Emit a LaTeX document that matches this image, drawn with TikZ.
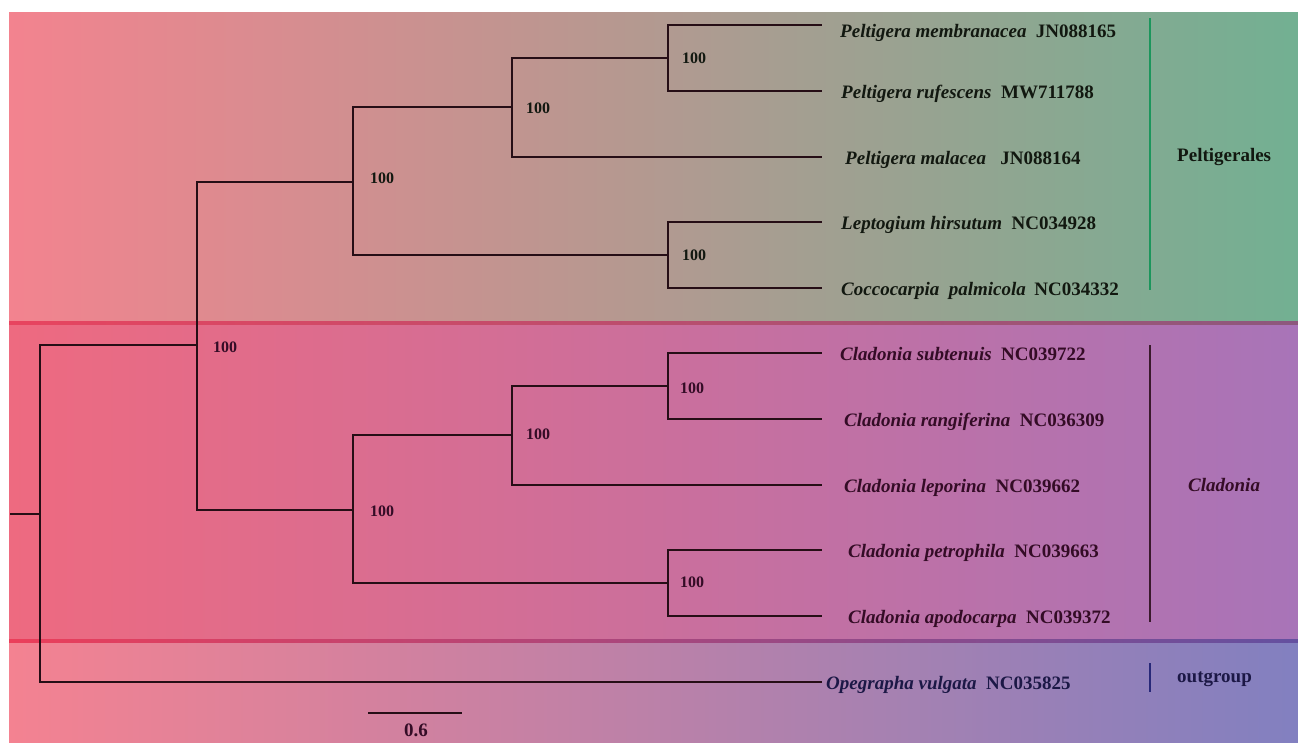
\documentclass[tikz,border=0pt]{standalone}
\usepackage{fontspec}
\setmainfont{Liberation Serif}
\definecolor{pinkA}{RGB}{243,131,143}
\definecolor{greenA}{RGB}{114,176,146}
\definecolor{pinkB}{RGB}{238,106,128}
\definecolor{purpB}{RGB}{168,116,184}
\definecolor{pinkC}{RGB}{244,130,145}
\definecolor{blueC}{RGB}{130,128,192}
\definecolor{sepA}{RGB}{232,68,95}
\definecolor{sepB}{RGB}{140,88,125}
\definecolor{sepC}{RGB}{235,62,90}
\definecolor{sepD}{RGB}{100,80,160}
\definecolor{branchc}{RGB}{38,14,22}
\definecolor{txtA}{RGB}{18,24,16}
\definecolor{txtB}{RGB}{52,12,38}
\definecolor{txtC}{RGB}{28,24,70}
\definecolor{barA}{RGB}{28,150,92}
\definecolor{barB}{RGB}{58,26,44}
\definecolor{barC}{RGB}{40,40,120}
\begin{document}
\begin{tikzpicture}[x=1pt,y=-1pt,
  branch/.style={draw=branchc,line width=1.4pt},
  leaf/.style={anchor=base west,inner sep=0pt,font=\fontsize{19}{22}\selectfont\bfseries},
  boot/.style={anchor=west,inner sep=0pt,font=\fontsize{16}{18}\selectfont\bfseries},
  clade/.style={anchor=west,inner sep=0pt,font=\fontsize{19}{22}\selectfont\bfseries},
  sp/.style={}]
\useasboundingbox (0,0) rectangle (1298,742);
\fill[white] (0,0) rectangle (1298,742);
% background bands
\shade[left color=pinkA,right color=greenA] (9,12) rectangle (1298,323);
\shade[left color=pinkB,right color=purpB] (9,323) rectangle (1298,641);
\shade[left color=pinkC,right color=blueC] (9,641) rectangle (1298,742);
\shade[left color=sepA,right color=sepB] (9,321.8) rectangle (1298,324.4);
\shade[left color=sepC,right color=sepD] (9,639.8) rectangle (1298,642.4);
% tree coordinates
\coordinate (r0) at (10,514);
\coordinate (r) at (40,514);
\coordinate (n1) at (197,345);
\coordinate (pA) at (353,182);
\coordinate (pB) at (512,107);
\coordinate (pC) at (668,58);
\coordinate (pD) at (668,255);
\coordinate (cA) at (353,510);
\coordinate (cB) at (512,435);
\coordinate (cC) at (668,386);
\coordinate (cD) at (668,583);
\coordinate (t1) at (822,25);
\coordinate (t2) at (822,91);
\coordinate (t3) at (822,157);
\coordinate (t4) at (822,222);
\coordinate (t5) at (822,288);
\coordinate (t6) at (822,353);
\coordinate (t7) at (822,419);
\coordinate (t8) at (822,485);
\coordinate (t9) at (822,550);
\coordinate (t10) at (822,616);
\coordinate (t11) at (822,682);
% branches
\draw[branch] (r0) -- (r);
\draw[branch] (r) |- (n1);
\draw[branch] (r) |- (t11);
\draw[branch] (n1) |- (pA);
\draw[branch] (n1) |- (cA);
\draw[branch] (pA) |- (pB);
\draw[branch] (pA) |- (pD);
\draw[branch] (pB) |- (pC);
\draw[branch] (pB) |- (t3);
\draw[branch] (pC) |- (t1);
\draw[branch] (pC) |- (t2);
\draw[branch] (pD) |- (t4);
\draw[branch] (pD) |- (t5);
\draw[branch] (cA) |- (cB);
\draw[branch] (cA) |- (cD);
\draw[branch] (cB) |- (cC);
\draw[branch] (cB) |- (t8);
\draw[branch] (cC) |- (t6);
\draw[branch] (cC) |- (t7);
\draw[branch] (cD) |- (t9);
\draw[branch] (cD) |- (t10);
% bootstrap values
\node[boot,text=txtA] (bpC) at (682,58) {100};
\node[boot,text=txtA] (bpB) at (526,108) {100};
\node[boot,text=txtA] (bpA) at (370,178) {100};
\node[boot,text=txtA] (bpD) at (682,255) {100};
\node[boot,text=txtB] (bn1) at (213,347) {100};
\node[boot,text=txtB] (bcC) at (680,388) {100};
\node[boot,text=txtB] (bcB) at (526,434) {100};
\node[boot,text=txtB] (bcA) at (370,511) {100};
\node[boot,text=txtB] (bcD) at (680,582) {100};
% leaf labels
\node[leaf,text=txtA] (L1) at (840,37) {\textit{Peltigera membranacea}\hspace{0.5em}JN088165};
\node[leaf,text=txtA] (L2) at (841,98) {\textit{Peltigera rufescens}\hspace{0.5em}MW711788};
\node[leaf,text=txtA] (L3) at (845,164) {\textit{Peltigera malacea}\hspace{0.75em}JN088164};
\node[leaf,text=txtA] (L4) at (841,229) {\textit{Leptogium hirsutum}\hspace{0.5em}NC034928};
\node[leaf,text=txtA] (L5) at (841,295) {\textit{Coccocarpia\hspace{0.5em}palmicola}\hspace{0.45em}NC034332};
\node[leaf,text=txtB] (L6) at (840,360) {\textit{Cladonia subtenuis}\hspace{0.5em}NC039722};
\node[leaf,text=txtB] (L7) at (844,426) {\textit{Cladonia rangiferina}\hspace{0.5em}NC036309};
\node[leaf,text=txtB] (L8) at (844,492) {\textit{Cladonia leporina}\hspace{0.5em}NC039662};
\node[leaf,text=txtB] (L9) at (848,557) {\textit{Cladonia petrophila}\hspace{0.5em}NC039663};
\node[leaf,text=txtB] (L10) at (848,623) {\textit{Cladonia apodocarpa}\hspace{0.5em}NC039372};
\node[leaf,text=txtC] (L11) at (826,689) {\textit{Opegrapha vulgata}\hspace{0.5em}NC035825};
% clade bars
\coordinate (ba1) at (1150,18);
\coordinate (ba2) at (1150,290);
\coordinate (bb1) at (1150,345);
\coordinate (bb2) at (1150,622);
\coordinate (bc1) at (1150,663);
\coordinate (bc2) at (1150,692);
\draw[draw=barA,line width=2pt] (ba1) -- (ba2);
\draw[draw=barB,line width=1.6pt] (bb1) -- (bb2);
\draw[draw=barC,line width=2.2pt] (bc1) -- (bc2);
\node[clade,text=txtA] (cladeP) at (1177,157) {Peltigerales};
\node[clade,text=txtB] (cladeC) at (1188,485) {\textit{Cladonia}};
\node[clade,text=txtC] (cladeO) at (1177,679) {outgroup};
% scale bar
\coordinate (s1) at (368,713);
\coordinate (s2) at (462,713);
\draw[draw=branchc,line width=1.5pt] (s1) -- (s2);
\node[inner sep=0pt,font=\fontsize{19}{22}\selectfont\bfseries,text=txtB] (scl) at (416,730) {0.6};
\end{tikzpicture}
\end{document}
